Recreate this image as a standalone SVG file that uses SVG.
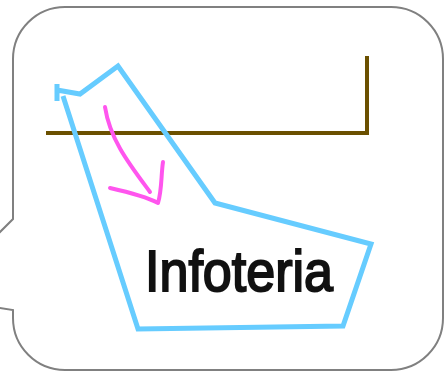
<svg xmlns="http://www.w3.org/2000/svg" width="444" height="372" viewBox="0 0 444 372">
<style>
.bubble{fill:#ffffff;stroke:#808080;stroke-width:2;stroke-linejoin:miter}
.brown{fill:none;stroke:#6b5000;stroke-width:4;stroke-linejoin:miter}
.blue{fill:none;stroke:#66ccff;stroke-width:5;stroke-linejoin:miter}
.pink{fill:none;stroke:#ff55ee;stroke-width:4;stroke-linecap:round;stroke-linejoin:round}
.label{font-family:"Liberation Sans",Arial,sans-serif;font-size:58px;fill:#111111;stroke:#111111;stroke-width:2}
</style>
<rect width="444" height="372" fill="#ffffff"/>
<g id="bubble">
<path class="bubble" d="M65,7 H391 A52,52 0 0 1 443,59 V318 A52,52 0 0 1 391,370 H65 A52,52 0 0 1 13,318 V310 L-66,298 L13,219 V59 A52,52 0 0 1 65,7 Z"/>
</g>
<g id="bracket">
<path class="brown" d="M46,133 H367 V56"/>
</g>
<g id="shape">
<path class="blue" d="M57,84 V101 M57,90 L80,94 L118,66 L215,203 L371,244 L343,326 L138,329 L63,96"/>
</g>
<g id="connectors">
<path class="pink" d="M105,107 C110,140 130,165 150,192"/>
<path class="pink" d="M110,188 C128,192 145,196 158,203 C162,190 161,175 163,162"/>
</g>
<g id="text">
<text class="label" x="145" y="291" textLength="188" lengthAdjust="spacingAndGlyphs">Infoteria</text>
</g>
</svg>
